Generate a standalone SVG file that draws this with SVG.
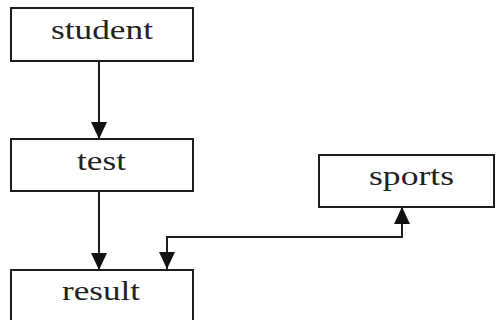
<svg xmlns="http://www.w3.org/2000/svg" width="497" height="320" viewBox="0 0 497 320">
  <style>
    .box { fill: #ffffff; stroke: #1e1e1e; stroke-width: 2; }
    .label { font-family: "Liberation Serif", "Times New Roman", serif; font-size: 28px; fill: #1f221f; text-anchor: middle; }
    .edge { fill: none; stroke: #1e1e1e; stroke-width: 2; }
  </style>
  <defs>
    <marker id="arrow" markerUnits="userSpaceOnUse" markerWidth="18" markerHeight="16" refX="17" refY="8" orient="auto-start-reverse">
      <path d="M0,0 L17,8 L0,16 Z" fill="#111"/>
    </marker>
  </defs>
  <rect width="497" height="320" fill="#ffffff"/>

  <g id="edges">
    <path class="edge" d="M99,61 V139" marker-end="url(#arrow)"/>
    <path class="edge" d="M99,191 V270" marker-end="url(#arrow)"/>
    <path class="edge" d="M167,269 V237 H402 V207" marker-start="url(#arrow)" marker-end="url(#arrow)"/>
  </g>

  <g id="student">
    <rect class="box" x="11" y="8" width="182" height="53"/>
    <text class="label" x="102" y="39" textLength="102" lengthAdjust="spacingAndGlyphs">student</text>
  </g>
  <g id="test">
    <rect class="box" x="11" y="139" width="182" height="52"/>
    <text class="label" x="101.5" y="170" textLength="49" lengthAdjust="spacingAndGlyphs">test</text>
  </g>
  <g id="result">
    <rect class="box" x="11" y="270" width="182" height="60"/>
    <text class="label" x="101" y="300" textLength="78" lengthAdjust="spacingAndGlyphs">result</text>
  </g>
  <g id="sports">
    <rect class="box" x="319" y="155" width="175" height="52"/>
    <text class="label" x="411.5" y="185" textLength="85" lengthAdjust="spacingAndGlyphs">sports</text>
  </g>
</svg>
